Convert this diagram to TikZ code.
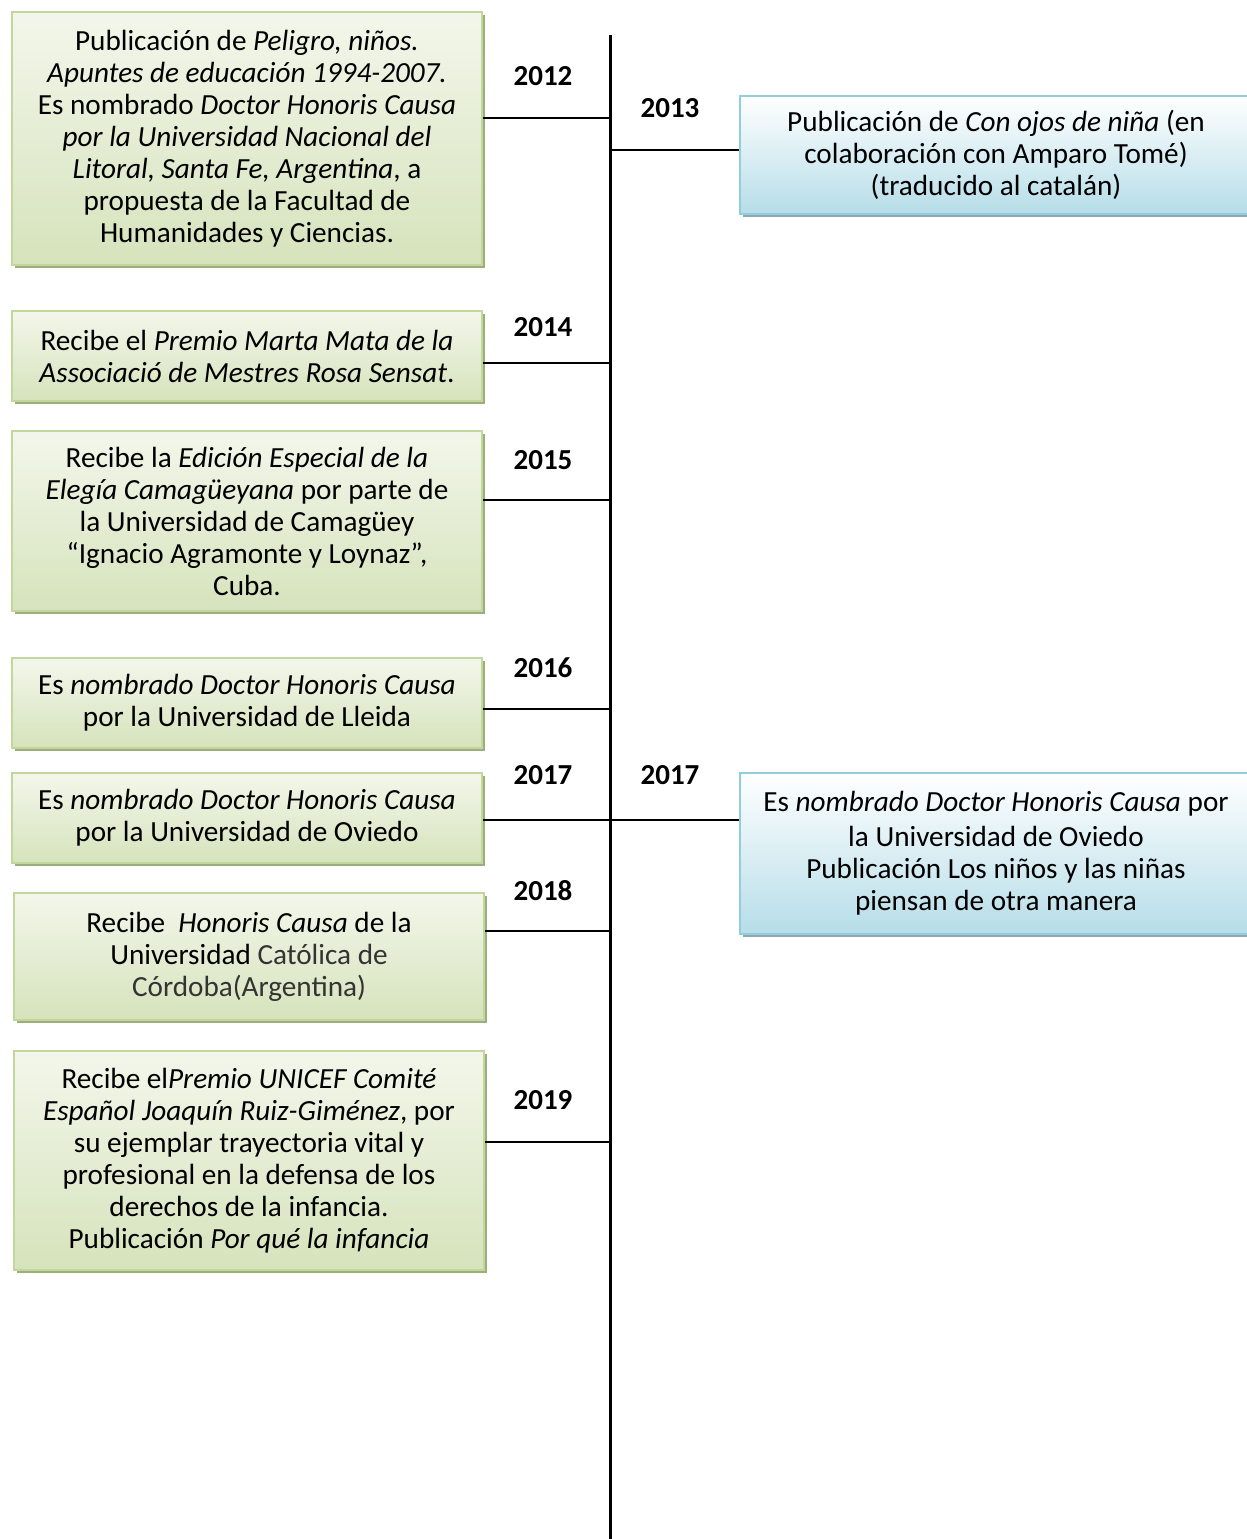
\documentclass[tikz,border=0pt]{standalone}
\usepackage{fontspec}
\setmainfont{Carlito}
\usetikzlibrary{shadows}
\definecolor{gfill}{HTML}{D6E3BC}
\definecolor{gline}{HTML}{C3D69B}
\definecolor{gshadow}{HTML}{9BAE7C}
\definecolor{bfill}{HTML}{B6DDE8}
\definecolor{bline}{HTML}{92CDDC}
\definecolor{bshadow}{HTML}{8FA9B3}
\definecolor{softblack}{HTML}{333333}
\tikzset{
  gbox/.style={draw=gline, line width=1.5pt, top color=white!70!gfill, bottom color=gfill,
    drop shadow={shadow xshift=3pt, shadow yshift=-3pt, fill=gshadow, opacity=1},
    align=center, inner sep=0pt, font=\fontsize{29.2}{32}\selectfont},
  bbox/.style={draw=bline, line width=1.5pt, top color=white, bottom color=bfill,
    drop shadow={shadow xshift=3pt, shadow yshift=-3pt, fill=bshadow, opacity=1},
    align=center, inner sep=0pt, font=\fontsize{29.2}{32}\selectfont},
  yearlbl/.style={font=\fontsize{29}{32}\selectfont\bfseries, inner sep=0pt},
  conn/.style={line width=2pt, black},
}
\begin{document}
\begin{tikzpicture}[x=1pt,y=-1pt]
\useasboundingbox (0,0) rectangle (1247,1539);
% axis
\coordinate (top) at (610,35);
\coordinate (bot) at (610,1539);
\draw[line width=3pt] (top) -- (bot);
% left boxes
\node[gbox, minimum width=470pt, minimum height=253pt] (b1) at (247,138.5)
 {Publicación de \textit{Peligro, niños.}\\ \textit{Apuntes de educación 1994-2007.}\\ Es nombrado \textit{Doctor Honoris Causa}\\ \textit{por la Universidad Nacional del}\\ \textit{Litoral, Santa Fe, Argentina}, a\\ propuesta de la Facultad de\\ Humanidades y Ciencias.};
\node[gbox, minimum width=470pt, minimum height=90pt] (b2) at (247,356)
 {Recibe el \textit{Premio Marta Mata de la}\\ \textit{Associació de Mestres Rosa Sensat}.};
\node[gbox, minimum width=470pt, minimum height=180pt] (b3) at (247,521)
 {Recibe la \textit{Edición Especial de la}\\ \textit{Elegía Camagüeyana} por parte de\\ la Universidad de Camagüey\\ “Ignacio Agramonte y Loynaz”,\\ Cuba.};
\node[gbox, minimum width=470pt, minimum height=90pt] (b4) at (247,703)
 {Es \textit{nombrado Doctor Honoris Causa}\\ por la Universidad de Lleida};
\node[gbox, minimum width=470pt, minimum height=90pt] (b5) at (247,818)
 {Es \textit{nombrado Doctor Honoris Causa}\\ por la Universidad de Oviedo};
\node[gbox, minimum width=470pt, minimum height=127pt] (b6) at (249,956.5)
 {Recibe\ \ \textit{Honoris Causa} de la\\ Universidad \textcolor{softblack}{Católica de}\\ \textcolor{softblack}{Córdoba(Argentina)}};
\node[gbox, minimum width=470pt, minimum height=219pt] (b7) at (249,1160.5)
 {Recibe el\textit{Premio UNICEF Comité}\\ \textit{Español Joaquín Ruiz-Giménez}, por\\ su ejemplar trayectoria vital y\\ profesional en la defensa de los\\ derechos de la infancia.\\ Publicación \textit{Por qué la infancia}};
% right boxes
\node[bbox, minimum width=512pt, minimum height=118pt] (r1) at (996,155)
 {Publicación de \textit{Con ojos de niña} (en\\ colaboración con Amparo Tomé)\\ (traducido al catalán)};
\node[bbox, minimum width=512pt, minimum height=161pt] (r2) at (996,853.5)
 {Es \textit{nombrado Doctor Honoris Causa} por\\[3pt] la Universidad de Oviedo\\ Publicación Los niños y las niñas\\ piensan de otra manera};
% connectors
\draw[conn] (b1.east |- 0,118) -- (top |- 0,118);
\draw[conn] (b2.east |- 0,363) -- (top |- 0,363);
\draw[conn] (b3.east |- 0,500) -- (top |- 0,500);
\draw[conn] (b4.east |- 0,709) -- (top |- 0,709);
\draw[conn] (b5.east |- 0,820) -- (top |- 0,820);
\draw[conn] (b6.east |- 0,931) -- (top |- 0,931);
\draw[conn] (b7.east |- 0,1142) -- (top |- 0,1142);
\draw[conn] (top |- 0,150) -- (r1.west |- 0,150);
\draw[conn] (top |- 0,820) -- (r2.west |- 0,820);
% years
\node[yearlbl] (y2012) at (543,76) {2012};
\node[yearlbl] (y2013) at (670,108) {2013};
\node[yearlbl] (y2014) at (543,327) {2014};
\node[yearlbl] (y2015) at (543,460) {2015};
\node[yearlbl] (y2016) at (543,668) {2016};
\node[yearlbl] (y2017) at (543,775) {2017};
\node[yearlbl] (y2017b) at (670,775) {2017};
\node[yearlbl] (y2018) at (543,891) {2018};
\node[yearlbl] (y2019) at (543,1100) {2019};
\end{tikzpicture}
\end{document}
